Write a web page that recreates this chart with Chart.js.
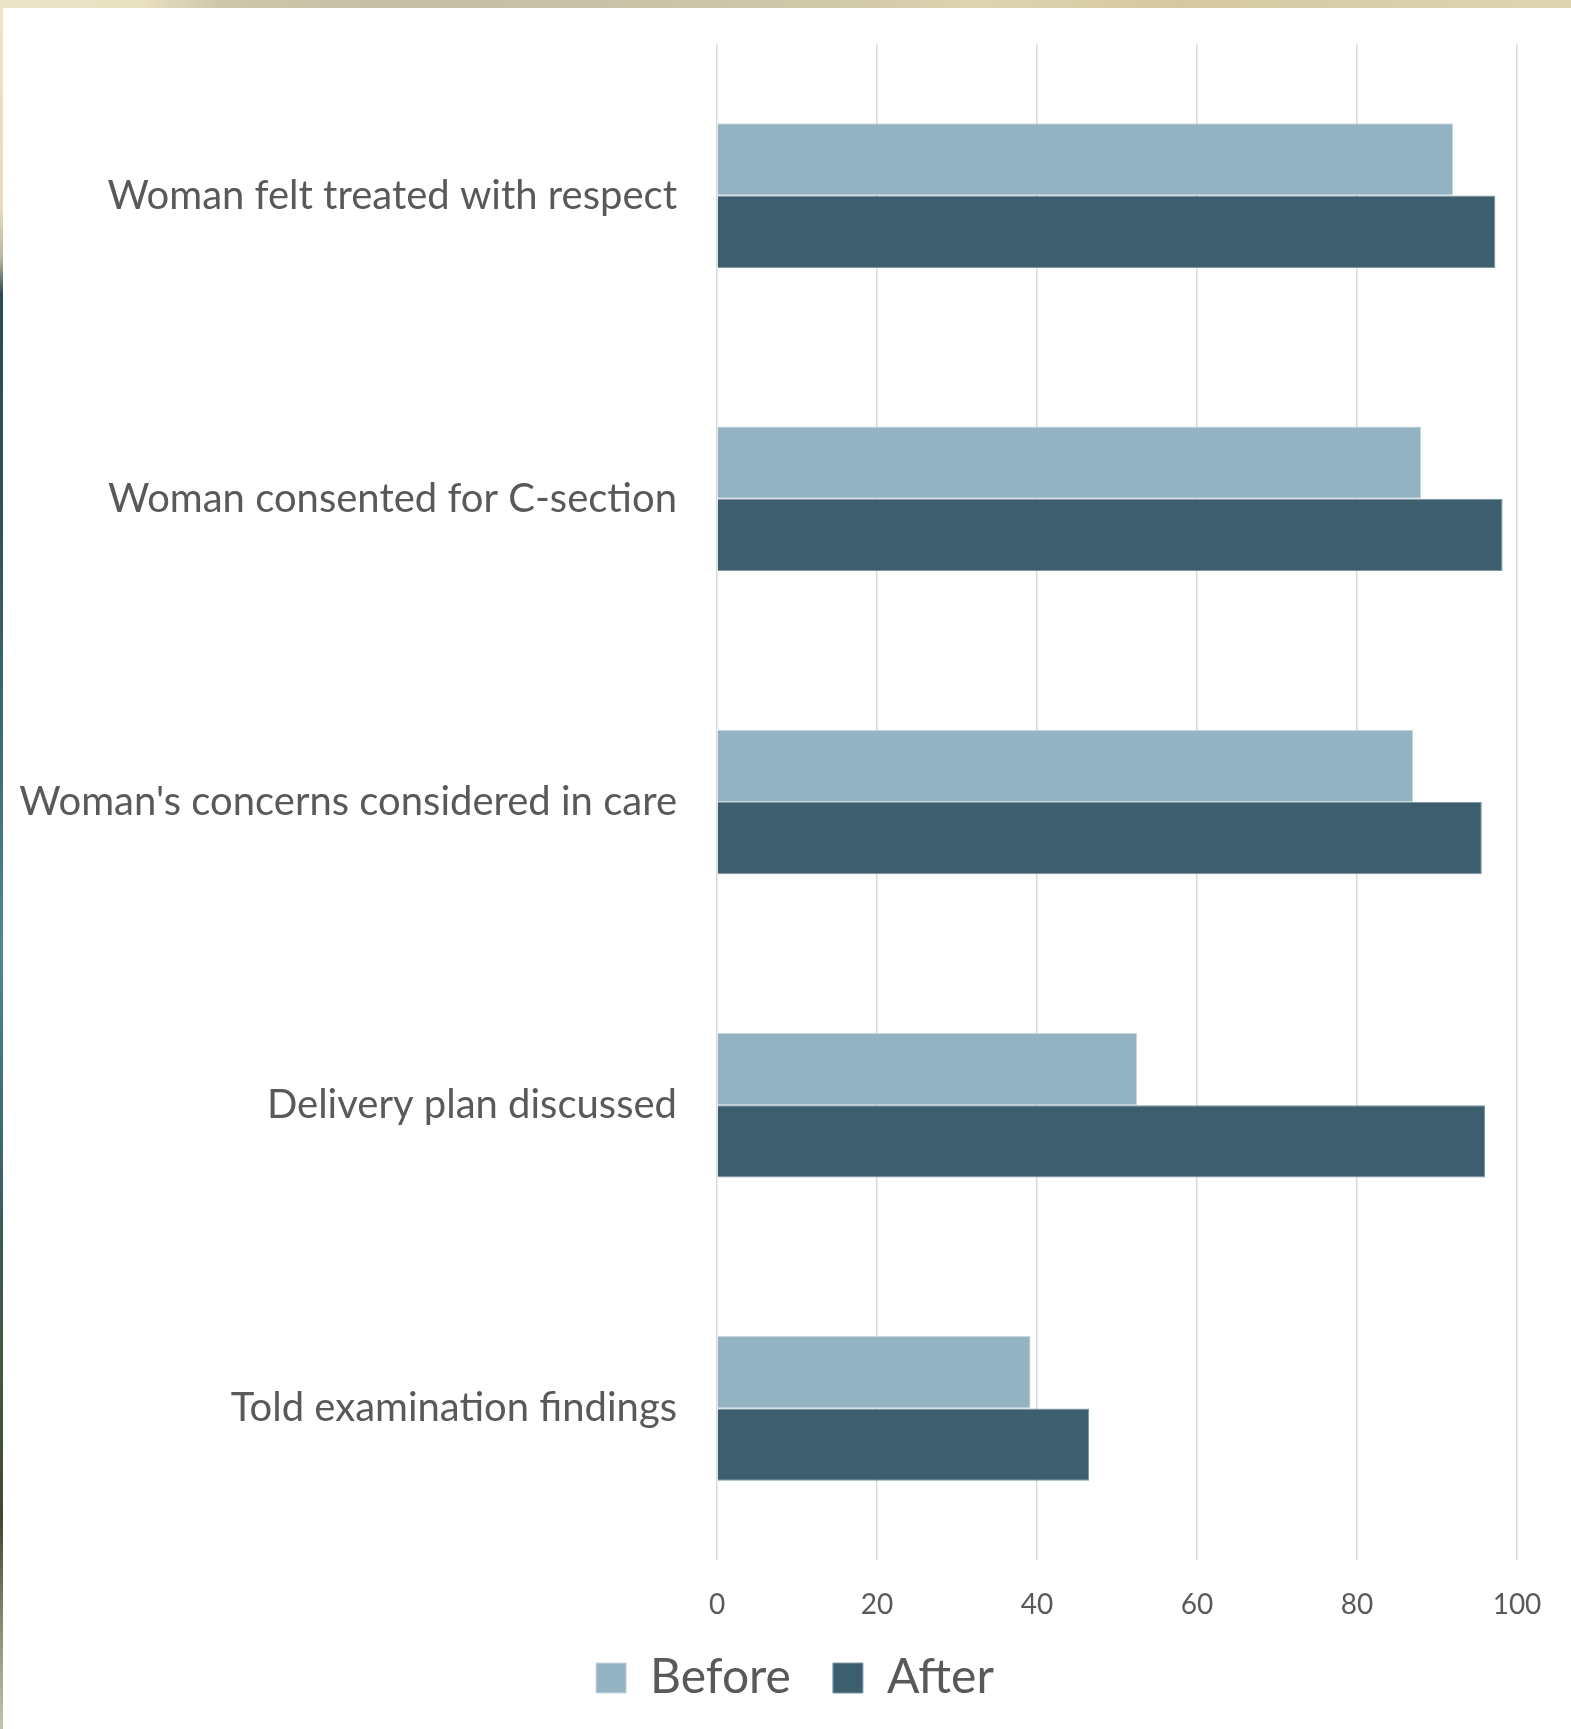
<!DOCTYPE html>
<html>
<head>
<meta charset="utf-8">
<script src="https://cdn.jsdelivr.net/npm/chart.js@4/dist/chart.umd.min.js"></script>
<style>
  html, body { margin: 0; padding: 0; }
  body {
    width: 1571px; height: 1729px; position: relative; overflow: hidden;
    background: #ffffff;
  }
  #topstrip {
    position: absolute; left: 0; top: 0; width: 1571px; height: 8px;
    background: linear-gradient(to right, #ece5c8 0%, #e8e0c0 9%, #cfc7aa 14%, #c5bea5 25%, #c9c2a7 40%, #d2caa9 55%, #ddd4b0 62%, #d6c9a1 75%, #d7cea9 85%, #ddd5b1 100%);
  }
  #leftstrip {
    position: absolute; left: 0; top: 0; width: 3px; height: 1729px;
    background: linear-gradient(to bottom, #ece5c8 0%, #e4dcbc 12%, #b9b59c 15%, #2c4a53 17%, #2f525c 30%, #3f6f7b 45%, #4f8898 55%, #3f7380 62%, #3a5a55 72%, #46583c 80%, #3e4a30 88%, #8a8a70 94%, #c8c4a8 100%);
  }
  #wrap { position: absolute; left: 3px; top: 8px; width: 1568px; height: 1721px; }
</style>
</head>
<body>
<div id="topstrip"></div>
<div id="leftstrip"></div>
<div id="wrap"><canvas id="c" width="1568" height="1721"></canvas></div>
<script>
const categories = [
  "Woman felt treated with respect",
  "Woman consented for C-section",
  "Woman's concerns considered in care",
  "Delivery plan discussed",
  "Told examination findings"
];
const beforeValues = [92, 88, 87, 52.5, 39.2];
const afterValues = [97.3, 98.2, 95.6, 96, 46.5];
const seriesNames = ["Before", "After"];
const xTicks = [0, 20, 40, 60, 80, 100];

const textColor = "#595959";
const fontFamily = "Lato, 'Open Sans', sans-serif";

const legendShift = {
  id: "legendShift",
  beforeDraw(chart) {
    if (chart.legend && chart.scales.x) {
      chart.legend.left = 70;
      chart.legend.top = chart.scales.x.top + 52;
    }
  }
};

new Chart(document.getElementById("c"), {
  type: "bar",
  data: {
    labels: categories,
    datasets: [
      { label: seriesNames[0], data: beforeValues, backgroundColor: "#93b3c3", borderColor: "#c9d6de", borderWidth: 1, categoryPercentage: 0.477, barPercentage: 1 },
      { label: seriesNames[1], data: afterValues, backgroundColor: "#3d5e6e", borderColor: "#7f97a3", borderWidth: 1, categoryPercentage: 0.477, barPercentage: 1 }
    ]
  },
  plugins: [legendShift],
  options: {
    indexAxis: "y",
    responsive: false,
    animation: false,
    devicePixelRatio: 1,
    layout: { padding: { left: 0, right: 54, top: 36, bottom: 5 } },
    plugins: {
      tooltip: { enabled: false },
      legend: {
        position: "bottom",
        labels: {
          color: textColor,
          font: { family: fontFamily, size: 48 },
          boxWidth: 30,
          boxHeight: 30,
          padding: 42
        }
      }
    },
    scales: {
      x: {
        min: 0, max: 100,
        afterBuildTicks: (axis) => { axis.ticks = xTicks.map(v => ({ value: v })); },
        afterFit: (axis) => { axis.height = 64; },
        grid: { display: true, color: "#d9d9d9", lineWidth: 1.5, drawTicks: false },
        border: { display: false },
        ticks: {
          color: textColor,
          font: { family: fontFamily, size: 28 },
          padding: 28
        }
      },
      y: {
        afterFit: (axis) => { axis.width = 714; axis.paddingTop = 0; axis.paddingBottom = 0; },
        grid: { display: false },
        border: { display: false },
        ticks: {
          color: textColor,
          font: { family: fontFamily, size: 40 },
          padding: 32
        }
      }
    }
  }
});
</script>
</body>
</html>
